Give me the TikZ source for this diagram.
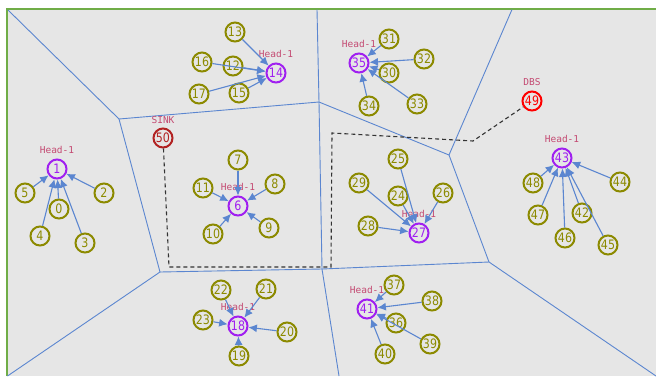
\documentclass[tikz,border=0pt]{standalone}
\usepackage{fontspec}
\setmainfont{DejaVu Sans}
\newfontfamily\numfont[FakeStretch=0.85]{DejaVu Sans}
\newfontfamily\tagfont{DejaVu Sans Mono}
\usetikzlibrary{arrows.meta}

\definecolor{bggray}{HTML}{E6E6E6}
\definecolor{framegreen}{HTML}{70AD47}
\definecolor{cellblue}{HTML}{5B86D0}
\definecolor{nodeolive}{HTML}{8C8A00}
\definecolor{headpurple}{HTML}{A020F0}
\definecolor{sinkred}{HTML}{B22222}
\definecolor{dbsred}{HTML}{FF0000}
\definecolor{tagpink}{HTML}{C44A72}

\tikzset{
  member/.style={circle,draw=nodeolive,line width=2pt,minimum size=19pt,inner sep=0pt,
    text=nodeolive,font=\numfont\fontsize{13}{13}\selectfont},
  head/.style={member,draw=headpurple,text=headpurple},
  sink/.style={member,draw=sinkred,text=sinkred},
  dbs/.style={member,draw=dbsred,text=dbsred},
  tag/.style={text=tagpink,font=\tagfont\fontsize{9.5}{9.5}\selectfont,inner sep=0pt},
  cell/.style={draw=cellblue,line width=0.9pt},
  link/.style={draw=cellblue,line width=1.1pt,-{Latex[length=8.5pt,width=8pt]}},
  route/.style={draw=black!80,line width=1.1pt,dash pattern=on 4pt off 3pt}
}

\begin{document}
\begin{tikzpicture}[x=1pt,y=-1pt]
        \useasboundingbox (0,0) rectangle (656,376);

        % 1. Field and frame
        \fill[bggray] (6,8) rectangle (656,376);
        \draw[framegreen,line width=2pt] (6.5,376) -- (6.5,8.5) -- (656,8.5);

        % 2. Cell borders
        \coordinate (v1) at (119,119);
        \coordinate (v2) at (319,102);
        \coordinate (v3) at (449,155);
        \coordinate (v4) at (160,272);
        \coordinate (v5) at (322,269);
        \coordinate (v6) at (489,262);
        \draw[cell] (8,10) -- (v1) -- (v2) -- (v3) -- (v6) -- (656,376);
        \draw[cell] (317,9.5) -- (v2) -- (v5) -- (339,376);
        \draw[cell] (512,9.5) -- (v3);
        \draw[cell] (v1) -- (v4) -- (7.5,376);
        \draw[cell] (v4) -- (v5) -- (v6);

        % 3. Cluster heads, sink and DBS
        \node (n1) at (57,169) [head] {1};
        \node (n6) at (238,206) [head] {6};
        \node (n14) at (276,73) [head] {14};
        \node (n18) at (238,326) [head] {18};
        \node (n27) at (419,233) [head] {27};
        \node (n35) at (359,63) [head] {35};
        \node (n41) at (367,309) [head] {41};
        \node (n43) at (562,158) [head] {43};
        \node (n50) at (163,138) [sink] {50};
        \node (n49) at (532,101) [dbs] {49};

        \foreach \h in {1,6,14,18,27,35,41,43}
          \node (t\h) [above of = n\h, node distance=19pt, tag] {Head-1};
        \node (tsink) [above of = n50, node distance=18pt, tag] {SINK};
        \node (tdbs) [above of = n49, node distance=19pt, tag] {DBS};

        % 4. Member nodes
        \foreach \n/\x/\y in {5/25/193, 0/59/209, 2/104/193, 4/40/236, 3/85/243,
            7/238/160, 11/203/188, 8/275/184, 10/213/234, 9/269/228,
            13/235/32, 16/202/62, 12/233/66, 17/199/94, 15/239/93,
            31/389/39, 32/424/59, 30/389/73, 34/369/106, 33/417/104,
            48/533/183, 44/620/182, 47/538/215, 42/582/213, 46/565/238, 45/608/245,
            25/398/159, 29/359/183, 24/398/196, 26/443/193, 28/368/226,
            22/221/290, 21/266/289, 23/203/320, 20/287/332, 19/239/356,
            37/394/285, 38/432/301, 36/396/323, 39/430/344, 40/385/354}
          \node (n\n) at (\x,\y) [member] {\n};

        % 5. Links to the heads
        \foreach \a/\b in {5/1, 0/1, 2/1, 4/1, 3/1,
            7/6, 11/6, 8/6, 10/6, 9/6,
            13/14, 16/14, 12/14, 17/14, 15/14,
            31/35, 32/35, 30/35, 34/35, 33/35,
            48/43, 44/43, 47/43, 42/43, 46/43, 45/43,
            25/27, 29/27, 24/27, 26/27, 28/27,
            22/18, 21/18, 23/18, 20/18, 19/18,
            37/41, 38/41, 36/41, 39/41, 40/41}
          \draw[link] (n\a) -- (n\b);

        % 6. Route from sink to DBS
        \coordinate (r1) at (169,267);
        \coordinate (r2) at (331,267);
        \coordinate (r3) at (332,133);
        \coordinate (r4) at (473,141);
        \draw[route] (n50) -- (r1) -- (r2) -- (r3) -- (r4) -- (n49);
    \end{tikzpicture}
\end{document}
